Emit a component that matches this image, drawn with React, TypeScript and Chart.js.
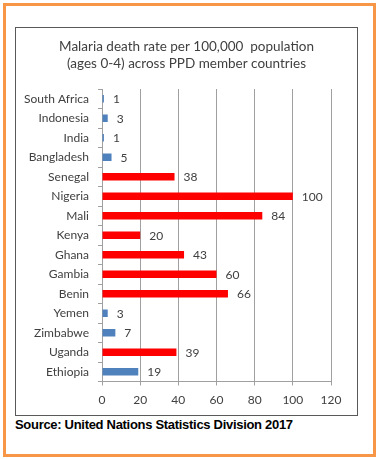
import React, { useEffect, useRef } from "react";
import { Chart, registerables } from "chart.js";

Chart.register(...registerables);

const categories = [
  "South Africa", "Indonesia", "India", "Bangladesh", "Senegal", "Nigeria", "Mali",
  "Kenya", "Ghana", "Gambia", "Benin", "Yemen", "Zimbabwe", "Uganda", "Ethiopia",
];
const values = [1, 3, 1, 5, 38, 100, 84, 20, 43, 60, 66, 3, 7, 39, 19];
const highBurden = [false, false, false, false, true, true, true, true, true, true, true, false, false, true, false];
const xTicks = [0, 20, 40, 60, 80, 100, 120];
const titleLines = ["Malaria death rate per 100,000  population", "(ages 0-4) across PPD member countries"];
const sourceText = "Source: United Nations Statistics Division 2017";

const BLUE = "#4F81BD";
const RED = "#FF0000";
const TEXT = "#404040";
const GRID = "#A0A0A0";
const FONT = "Lato, 'Open Sans', sans-serif";

const valueLabels = {
  id: "valueLabels",
  afterDatasetsDraw(chart: any) {
    const ctx = chart.ctx;
    const meta = chart.getDatasetMeta(0);
    ctx.save();
    ctx.font = `12px ${FONT}`;
    ctx.fillStyle = TEXT;
    ctx.textAlign = "left";
    ctx.textBaseline = "middle";
    meta.data.forEach((el: any, i: number) => {
      ctx.fillText(String(values[i]), el.x + 9, el.y + 0.5);
    });
    ctx.restore();
  },
};

export default function App() {
  const ref = useRef<HTMLCanvasElement>(null);
  useEffect(() => {
    if (!ref.current) return;
    const chart = new Chart(ref.current, {
      type: "bar",
      data: {
        labels: categories,
        datasets: [
          {
            data: values,
            backgroundColor: highBurden.map((h) => (h ? RED : BLUE)),
            borderWidth: 0,
            categoryPercentage: 1,
            barPercentage: 0.39,
          },
        ],
      },
      options: {
        indexAxis: "y",
        animation: false,
        responsive: false,
        devicePixelRatio: 1,
        layout: { padding: 0 },
        plugins: {
          legend: { display: false },
          tooltip: { enabled: false },
          title: {
            display: true,
            text: titleLines,
            color: TEXT,
            font: { family: FONT, size: 13.5, weight: "normal", lineHeight: 17 / 13.5 },
            padding: { top: 10.5, bottom: 16.5 },
          },
        },
        scales: {
          x: {
            min: 0,
            max: 120,
            afterBuildTicks(scale: any) {
              scale.ticks = xTicks.map((v) => ({ value: v }));
            },
            afterFit(scale: any) {
              scale.height = 33.5;
            },
            grid: {
              color: GRID,
              lineWidth: 1,
              drawTicks: true,
              tickLength: 4,
              tickColor: GRID,
            },
            border: { display: true, color: GRID, width: 1 },
            ticks: {
              color: TEXT,
              font: { family: FONT, size: 12 },
              padding: 7,
              maxRotation: 0,
            },
          },
          y: {
            afterFit(scale: any) {
              scale.width = 86;
            },
            grid: {
              offset: true,
              drawOnChartArea: false,
              drawTicks: true,
              tickLength: 4,
              color: GRID,
              tickColor: GRID,
            },
            border: { display: true, color: GRID, width: 1 },
            ticks: {
              color: TEXT,
              font: { family: FONT, size: 12 },
              padding: 9,
              autoSkip: false,
            },
          },
          yRightSpace: {
            type: "category",
            labels: categories,
            position: "right",
            afterFit(scale: any) {
              scale.width = 26;
            },
            grid: { display: false },
            border: { display: false },
            ticks: { display: false },
          },
        },
      },
      plugins: [valueLabels],
    } as any);
    return () => chart.destroy();
  }, []);

  return (
    <div style={{ position: "absolute", left: 0, top: 0, width: 381, height: 459, background: "#fff" }}>
      <div
        style={{
          position: "absolute",
          left: 3,
          top: 3,
          width: 373,
          height: 454,
          boxSizing: "border-box",
          border: "3px solid #F79646",
        }}
      />
      <div
        style={{
          position: "absolute",
          left: 15,
          top: 27,
          width: 343,
          height: 389,
          boxSizing: "border-box",
          border: "1px solid #595959",
        }}
      >
        <canvas ref={ref} width={341} height={387} style={{ display: "block", width: 341, height: 387 }} />
      </div>
      <div
        style={{
          position: "absolute",
          left: 15,
          top: 417,
          fontFamily: "'Liberation Sans Narrow', 'Liberation Sans', Arial, sans-serif",
          fontWeight: "bold",
          fontSize: 13,
          letterSpacing: "-0.3px",
          color: "#000",
          whiteSpace: "nowrap",
          lineHeight: "16px",
        }}
      >
        {sourceText}
      </div>
    </div>
  );
}
